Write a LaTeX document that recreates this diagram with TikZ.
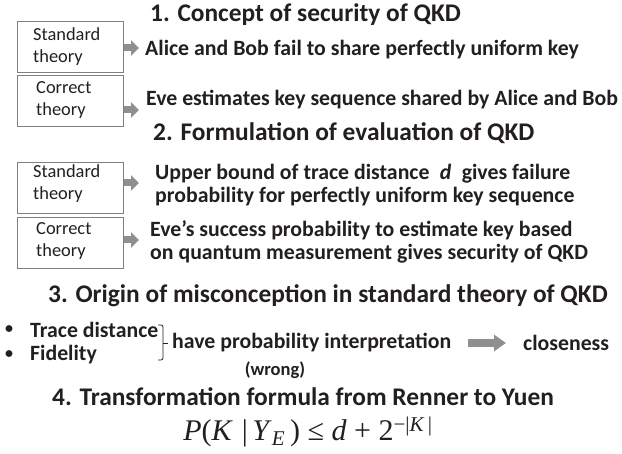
\documentclass[tikz,border=0pt]{standalone}
\usepackage{fontspec}
\setmainfont{Carlito}
\newfontfamily\formulafont{Liberation Serif}
\usetikzlibrary{arrows.meta}
\definecolor{txt}{HTML}{231F20}
\definecolor{boxline}{HTML}{808080}
\definecolor{arrfill}{HTML}{8F8F8F}
\begin{document}
\begin{tikzpicture}[x=1pt,y=-1pt,
  title/.style={anchor=west,inner sep=0pt,font=\fontsize{25.4}{28}\selectfont\bfseries,text=txt},
  body/.style={anchor=west,inner sep=0pt,font=\fontsize{21.8}{23}\selectfont\bfseries,text=txt,align=left},
  theorybox/.style={draw=boxline,line width=0.9pt,minimum width=106pt,minimum height=51pt,inner sep=0pt},
  boxlabel/.style={anchor=west,inner sep=0pt,font=\fontsize{18.4}{22}\selectfont,text=txt,align=left},
  bullet/.style={anchor=center,inner sep=0pt,font=\fontsize{16}{18}\selectfont\bfseries,text=txt},
  smallarrow/.style={draw=arrfill,line width=7pt,-{Triangle[width=15pt,length=8pt]}},
  bigarrow/.style={draw=arrfill,line width=8pt,-{Triangle[width=16pt,length=12pt]}},
  bracket/.style={draw=txt,line width=0.8pt,rounded corners=2pt}]
\useasboundingbox (0,0) rectangle (622,454);
% section 1
\node[title] (t1) at (150,15) {1. Concept of security of QKD};
\node[theorybox] (b1) at (70,46.5) {};
\node[boxlabel] (l1) at (33,46.5) {Standard\\theory};
\node[theorybox] (b2) at (70,100.5) {};
\node[boxlabel] (l2) at (36,100.5) {Correct\\theory};
\node[body] (s1) at (145,50) {Alice and Bob fail to share perfectly uniform key};
\node[body] (s2) at (146,100) {Eve estimates key sequence shared by Alice and Bob};
\coordinate (a1s) at (124,48);\coordinate (a1e) at (139,48);
\coordinate (a2s) at (124,110);\coordinate (a2e) at (139,110);
\draw[smallarrow] (a1s) -- (a1e);
\draw[smallarrow] (a2s) -- (a2e);
% section 2
\node[title] (t2) at (153,133) {2. Formulation of evaluation of QKD};
\node[theorybox] (b3) at (70,187.5) {};
\node[boxlabel] (l3) at (33,184) {Standard\\theory};
\node[theorybox] (b4) at (70,242.5) {};
\node[boxlabel] (l4) at (36,241) {Correct\\theory};
\node[body] (s3) at (155,185) {Upper bound of trace distance\hspace{0.25em} \textit{d}\hspace{0.25em} gives failure\\probability for perfectly uniform key sequence};
\node[body] (s4) at (150,242) {Eve’s success probability to estimate key based\\on quantum measurement gives security of QKD};
\coordinate (a3s) at (124,183);\coordinate (a3e) at (139,183);
\coordinate (a4s) at (124,240);\coordinate (a4e) at (139,240);
\draw[smallarrow] (a3s) -- (a3e);
\draw[smallarrow] (a4s) -- (a4e);
% section 3
\node[title] (t3) at (48,296) {3. Origin of misconception in standard theory of QKD};
\node[bullet] (bu1) at (9,330) {•};
\node[bullet] (bu2) at (9,355) {•};
\node[body] (td) at (30,330) {Trace distance};
\node[body] (fi) at (30,355) {Fidelity};
\draw[bracket] (158,325) -- (163,325) -- (163,343) -- (163,360) -- (158,360);
\draw[draw=txt,line width=0.8pt] (163,343) -- (168,343);
\node[body] (hp) at (172,343) {have probability interpretation};
\node[anchor=center,inner sep=0pt,font=\fontsize{18.5}{20}\selectfont\bfseries,text=txt] (wr) at (275,370) {(wrong)};
\coordinate (a5s) at (468,343);\coordinate (a5e) at (506,343);
\draw[bigarrow] (a5s) -- (a5e);
\node[body] (cl) at (523,343) {closeness};
% section 4
\node[title] (t4) at (52,397) {4. Transformation formula from Renner to Yuen};
\node[inner sep=0pt,font=\formulafont\fontsize{30}{34}\selectfont,text=txt] (fm) at (308,432)
  {\textit{P}(\textit{K}\hspace{0.3em}|\hspace{0.15em}\textit{Y}\textsubscript{\textit{E}}\,) ≤ \textit{d} + 2\textsuperscript{−|\textit{K}\,|}};
\end{tikzpicture}
\end{document}
